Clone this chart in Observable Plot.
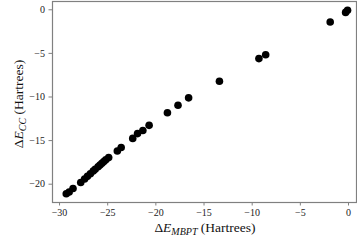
<!DOCTYPE html>
<html>
<head>
<meta charset="utf-8">
<script src="https://cdn.jsdelivr.net/npm/d3@7"></script>
<script src="https://cdn.jsdelivr.net/npm/@observablehq/plot@0.6"></script>
<style>
  body { margin: 0; background: #fff; }
  #chart svg { display: block; }
</style>
</head>
<body>
<div id="chart"></div>
<script>
// Values
const mbpt = [-29.3, -29.0, -28.6, -27.8, -27.4, -27.1, -26.8, -26.5, -26.3, -26.0, -25.8, -25.6, -25.4, -25.2, -24.9,
              -24.0, -23.6, -22.4, -21.9, -21.35, -20.7, -18.8, -17.7, -16.6, -13.4, -9.3, -8.6, -1.9, -0.3, -0.1];
const cc   = [-21.1, -20.9, -20.5, -19.8, -19.4, -19.1, -18.8, -18.5, -18.3, -18.0, -17.8, -17.6, -17.4, -17.2, -16.95,
              -16.2, -15.8, -14.75, -14.2, -13.85, -13.25, -11.8, -10.95, -10.1, -8.2, -5.6, -5.15, -1.4, -0.3, -0.05];
const xTicks = [-30, -25, -20, -15, -10, -5, 0];
const yTicks = [-20, -15, -10, -5, 0];

const points = mbpt.map((x, i) => ({x, y: cc[i]}));
const serif = "'Liberation Serif', 'DejaVu Serif', serif";
const gray = "#808080";
const fmt = d => String(d).replace("-", "\u2212");

const plot = Plot.plot({
  width: 357,
  height: 241,
  marginLeft: 52,
  marginRight: 1,
  marginTop: 1,
  marginBottom: 39,
  style: {fontFamily: serif, fontSize: "10px", color: "#222", background: "#fff"},
  x: {domain: [-30.73, 0.83], label: null},
  y: {domain: [-22.1, 0.95], label: null},
  marks: [
    Plot.frame({stroke: gray, strokeWidth: 1.2}),
    Plot.axisX({ticks: xTicks, tickSize: 3.5, tickPadding: 3, stroke: gray, label: null, tickFormat: fmt}),
    Plot.axisY({ticks: yTicks, tickSize: 3.5, tickPadding: 4, stroke: gray, label: null, tickFormat: fmt}),
    Plot.dot(points, {x: "x", y: "y", r: 3.8, fill: "#000", stroke: "none"})
  ]
});

const svg = d3.select(plot);
// X axis label: ΔE_MBPT (Hartrees)
const xl = svg.append("text")
  .attr("x", 205).attr("y", 232)
  .attr("text-anchor", "middle")
  .attr("font-family", serif)
  .attr("font-size", 13.5)
  .attr("fill", "#111");
xl.append("tspan").text("\u0394");
xl.append("tspan").attr("font-style", "italic").text("E");
xl.append("tspan").attr("font-style", "italic").attr("font-size", 10).attr("dy", 3).text("MBPT");
xl.append("tspan").attr("dy", -3).text(" (Hartrees)");

// Y axis label: ΔE_CC (Hartrees)
const yl = svg.append("text")
  .attr("transform", "translate(23,104) rotate(-90)")
  .attr("text-anchor", "middle")
  .attr("font-family", serif)
  .attr("font-size", 13.5)
  .attr("fill", "#111");
yl.append("tspan").text("\u0394");
yl.append("tspan").attr("font-style", "italic").text("E");
yl.append("tspan").attr("font-style", "italic").attr("font-size", 10).attr("dy", 3).text("CC");
yl.append("tspan").attr("dy", -3).text(" (Hartrees)");

document.getElementById("chart").appendChild(plot);
</script>
</body>
</html>
